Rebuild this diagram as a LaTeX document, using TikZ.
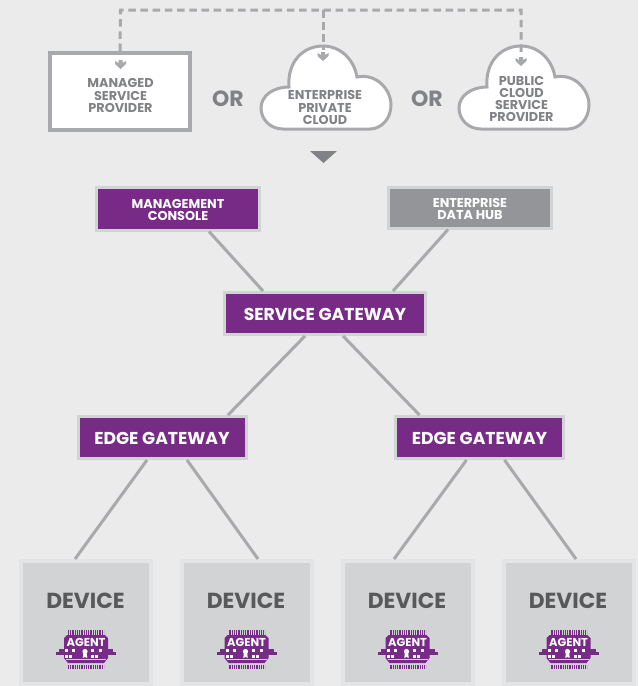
\documentclass[tikz,border=0pt]{standalone}
\usepackage{fontspec}
\setmainfont{Poppins}
\usetikzlibrary{shadows}
\definecolor{pagegray}{HTML}{EBEBEB}
\definecolor{linegray}{HTML}{A7A9AC}
\definecolor{textgray}{HTML}{808285}
\definecolor{hubgray}{HTML}{939598}
\definecolor{devgray}{HTML}{D1D3D4}
\definecolor{devedge}{HTML}{E3E4E5}
\definecolor{darkgray}{HTML}{58595B}
\definecolor{chippurple}{HTML}{772B87}
\tikzset{
  gatebox/.style={draw=devgray,line width=3pt,fill=chippurple,text=white,align=center,font=\bfseries,
    inner sep=0pt,drop shadow={shadow xshift=0pt,shadow yshift=-.5pt,opacity=.35,fill=black}},
  smalllabel/.style={text=textgray,align=center,font=\bfseries\fontsize{12.8}{12.3}\selectfont,inner sep=0pt},
  devicebox/.style={draw=devedge,line width=4pt,fill=devgray,minimum width=130pt,minimum height=123pt,inner sep=0pt},
  link/.style={draw=linegray,line width=3pt},
  feed/.style={draw=linegray,line width=3pt,dash pattern=on 7.5pt off 4.7pt},
  cloudshape/.style={draw=linegray,line width=3pt,fill=white},
  chevron/.pic={
    \fill[linegray] (-5.5,1) -- (-2,3) -- (-2,0) -- (2,0) -- (2,3) -- (5.5,1) -- (5.5,4) -- (0,9) -- (-5.5,4) -- cycle;
  },
  cloudpic/.pic={
    \draw[cloudshape] (-40,83) .. controls (-53,83) and (-62,73) .. (-62,62)
      .. controls (-62,50) and (-50,41) .. (-34,41)
      .. controls (-36,16) and (-20,0) .. (0,0)
      .. controls (17,0) and (31,13) .. (34,31)
      .. controls (54,27) and (68,44) .. (68,59)
      .. controls (68,73) and (58,83) .. (47,83) -- cycle;
  },
  agentchip/.pic={
    \draw[chippurple,line width=5pt,dash pattern=on .9pt off .9pt] (-18,-23) -- (18,-23);
    \draw[chippurple,line width=4pt,dash pattern=on .9pt off .9pt] (-18,12) -- (18,12);
    \fill[chippurple] (-19,-20) -- (19,-20) -- (22,-17) -- (22,3) -- (18,8) -- (-18,8) -- (-22,3) -- (-22,-17) -- cycle;
    \fill[chippurple] (-30,-3) rectangle (30,0);
    \fill[chippurple] (-27,-6) rectangle (27,-3);
    \foreach \sx in {-21,-14,5,13} {
      \fill[white] (\sx,-6) rectangle +(3,2.6);
    }
    \foreach \sx in {-21,-17,5,9} {
      \fill[white] (\sx,0) rectangle +(3,2.6);
    }
    \fill[white] (-1,-3.5) circle (2.6);
    \fill[white] (-2.6,-3) -- (.6,-3) -- (1.2,3) -- (-1,2) -- (-3.2,3) -- cycle;
    \draw[devgray,line width=.5pt] (-20,4.5) -- (20,4.5);
    \node[text=white,font=\bfseries\fontsize{11.5}{12}\selectfont,inner sep=0pt] (agentname) at (0,-13) {AGENT};
  }
}
\begin{document}
\begin{tikzpicture}[x=1pt,y=-1pt]
  \useasboundingbox[fill=pagegray] (0,0) rectangle (638,686);
  % top row
  \node[draw=linegray,line width=4pt,fill=white,minimum width=140pt,minimum height=77pt,inner sep=0pt] (msp) at (120,91.5) {};
  \node[smalllabel] (msptext) at (120.5,95.5) {MANAGED\\SERVICE\\PROVIDER};
  \pic at (323,46) {cloudpic};
  \pic at (521,46) {cloudpic};
  \node[smalllabel] (privtext) at (325,107.5) {ENTERPRISE\\PRIVATE\\CLOUD};
  \node[smalllabel] (pubtext) at (521.5,99) {PUBLIC\\CLOUD\\SERVICE\\PROVIDER};
  \node[text=textgray,font=\bfseries\fontsize{22}{24}\selectfont,inner sep=0pt] (ora) at (228,99) {OR};
  \node[text=textgray,font=\bfseries\fontsize{22}{24}\selectfont,inner sep=0pt] (orb) at (427,99) {OR};
  \coordinate (feedprivate) at (323,50);
  \coordinate (feedpublic) at (521,52);
  \coordinate (feedtop) at (120.5,10);
  \draw[feed] (msp.north) -- (feedtop) -- (feedtop -| feedpublic) -- (feedpublic);
  \draw[feed] (feedtop -| feedprivate) -- (feedprivate);
  \pic at (120.5,60) {chevron};
  \pic at (323,52) {chevron};
  \pic at (521,57) {chevron};
  \fill[textgray] (310,151) -- (337,151) -- (323.5,163) -- cycle;
  % gateways
  \node[gatebox,minimum width=163pt,minimum height=43pt,font=\bfseries\fontsize{12.8}{12.3}\selectfont] (console) at (178,208.5) {\rule{0pt}{11.5pt}MANAGEMENT\\CONSOLE};
  \node[gatebox,fill=hubgray,minimum width=163pt,minimum height=41pt,font=\bfseries\fontsize{12.8}{12.3}\selectfont] (hub) at (470,207.5) {\rule{0pt}{11.5pt}ENTERPRISE\\DATA HUB};
  \node[gatebox,minimum width=201pt,minimum height=42pt,font=\bfseries\fontsize{17.2}{18}\selectfont] (service) at (325,313.5) {\rule{0pt}{14.5pt}SERVICE GATEWAY};
  \node[gatebox,minimum width=168pt,minimum height=42pt,font=\bfseries\fontsize{17.2}{18}\selectfont] (edgea) at (162,437.5) {\rule{0pt}{14.5pt}EDGE GATEWAY};
  \node[gatebox,minimum width=168pt,minimum height=42pt,font=\bfseries\fontsize{17.2}{18}\selectfont] (edgeb) at (479.5,437.5) {\rule{0pt}{14.5pt}EDGE GATEWAY};
  % devices
  \foreach \x/\n in {86/a,246.5/b,407.5/c,568.5/d} {
    \node[devicebox] (dev\n) at (\x,622.5) {};
    \node[text=darkgray,font=\bfseries\fontsize{21.8}{22}\selectfont,inner sep=0pt] (devtext\n) at (\x-.5,600.5) {DEVICE};
    \pic at (\x,655) {agentchip};
  }
  % links
  \draw[link] ([xshift=31pt]console.south) -- ([xshift=-62pt]service.north);
  \draw[link] ([xshift=-22pt]hub.south) -- ([xshift=68pt]service.north);
  \draw[link] ([xshift=-20pt]service.south) -- ([xshift=66pt]edgea.north);
  \draw[link] ([xshift=18pt]service.south) -- ([xshift=-60pt]edgeb.north);
  \draw[link] ([xshift=-15pt]edgea.south) -- ([xshift=-11pt]deva.north);
  \draw[link] ([xshift=25pt]edgea.south) -- ([xshift=11.5pt]devb.north);
  \draw[link] ([xshift=-13pt]edgeb.south) -- ([xshift=-13.5pt]devc.north);
  \draw[link] ([xshift=25pt]edgeb.south) -- ([xshift=7.5pt]devd.north);
\end{tikzpicture}
\end{document}
